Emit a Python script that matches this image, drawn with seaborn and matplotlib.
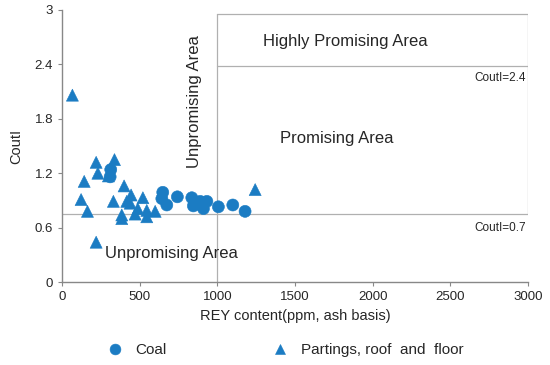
import matplotlib
matplotlib.use("Agg")
import matplotlib.pyplot as plt
import seaborn as sns
import pandas as pd

# coal samples
coal_rey = [313, 309, 648, 642, 674, 742, 835, 845, 889, 932, 910, 1006, 1099, 1178]
coal_couti = [1.24, 1.16, 0.99, 0.92, 0.85, 0.94, 0.93, 0.84, 0.89, 0.89, 0.81, 0.83, 0.85, 0.78]

# partings, roof and floor
part_rey = [66, 219, 337, 230, 298, 142, 399, 122, 163, 330, 444, 520, 416, 438,
            384, 384, 487, 470, 545, 545, 599, 219, 1243]
part_couti = [2.06, 1.32, 1.35, 1.20, 1.17, 1.11, 1.06, 0.91, 0.78, 0.89, 0.96, 0.93, 0.89, 0.87,
              0.74, 0.70, 0.81, 0.75, 0.79, 0.72, 0.78, 0.44, 1.02]

xticks = [0, 500, 1000, 1500, 2000, 2500, 3000]
yticks = [0, 0.6, 1.2, 1.8, 2.4, 3]

df = pd.concat([
    pd.DataFrame({"REY": coal_rey, "CoutI": coal_couti, "type": "Coal"}),
    pd.DataFrame({"REY": part_rey, "CoutI": part_couti, "type": "Partings, roof  and  floor"}),
])

sns.set_style("white")
plt.rcParams["font.family"] = ["Liberation Sans", "DejaVu Sans"]

fig = plt.figure(figsize=(5.5, 3.65), dpi=100)
ax = fig.add_axes([0.113, 0.227, 0.847, 0.746])

blue = "#1b7cc3"
sns.scatterplot(data=df, x="REY", y="CoutI", hue="type", style="type",
                markers={"Coal": "o", "Partings, roof  and  floor": "^"},
                palette=[blue, blue], s=75, edgecolor=blue, linewidth=0.4,
                ax=ax, zorder=3)

# area boundaries
lc = "#b0b0b0"
ax.plot([0, 3000], [0.75, 0.75], color=lc, lw=0.9, zorder=1)
ax.plot([1000, 1000], [0, 2.95], color=lc, lw=0.9, zorder=1)
ax.plot([1000, 3000], [2.38, 2.38], color=lc, lw=0.9, zorder=1)
ax.plot([1000, 3000], [2.95, 2.95], color=lc, lw=0.9, zorder=1)
ax.plot([3000, 3000], [0.75, 2.95], color=lc, lw=0.9, zorder=1)

ax.text(1822, 2.65, "Highly Promising Area", ha="center", va="center", fontsize=12)
ax.text(1770, 1.58, "Promising Area", ha="center", va="center", fontsize=12)
ax.text(850, 1.99, "Unpromising Area", ha="center", va="center", rotation=90, fontsize=12)
ax.text(702, 0.32, "Unpromising Area", ha="center", va="center", fontsize=12)
ax.text(2985, 2.25, "CoutI=2.4", ha="right", va="center", fontsize=8.5)
ax.text(2985, 0.6, "CoutI=0.7", ha="right", va="center", fontsize=8.5)

ax.set_xlim(0, 3000)
ax.set_ylim(0, 3)
ax.set_xticks(xticks)
ax.set_yticks(yticks)
ax.set_yticklabels(["0", "0.6", "1.2", "1.8", "2.4", "3"])
ax.tick_params(direction="out", length=3, width=0.8, color="#888888", labelsize=9.5,
               bottom=True, left=True)
for side in ["top", "right"]:
    ax.spines[side].set_visible(False)
for side in ["left", "bottom"]:
    ax.spines[side].set_color("#888888")
    ax.spines[side].set_linewidth(1.0)

ax.set_xlabel("REY content(ppm, ash basis)", fontsize=10.5, labelpad=4)
ax.set_ylabel("CoutI", fontsize=10.5, labelpad=8)

handles, labels = ax.get_legend_handles_labels()
ax.legend(handles, labels, loc="center left", bbox_to_anchor=(0.156, 0.041),
          bbox_transform=fig.transFigure, ncol=2, frameon=False, fontsize=11,
          columnspacing=6.45, handletextpad=0.33, markerscale=0.9)

fig.savefig("out.png", dpi=100)
